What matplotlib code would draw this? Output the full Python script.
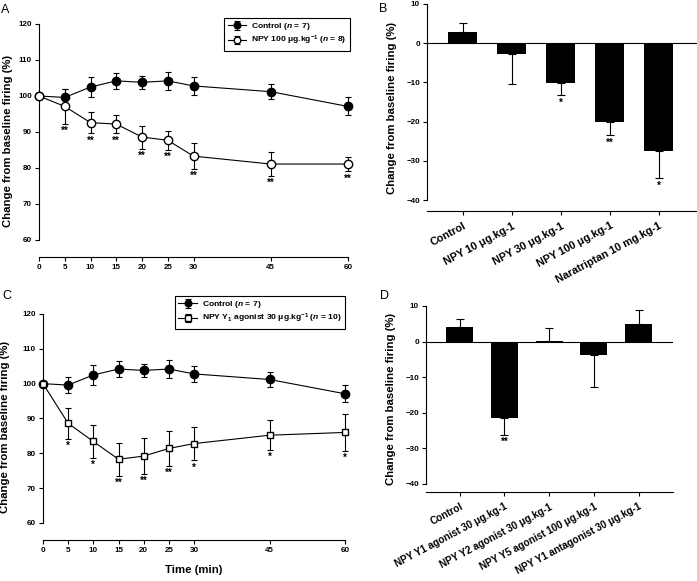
import numpy as np
import matplotlib
matplotlib.use("Agg")
import matplotlib.pyplot as plt

plt.rcParams['font.family'] = ['Liberation Sans', 'DejaVu Sans']
plt.rcParams['font.weight'] = 'bold'
plt.rcParams['mathtext.fontset'] = 'custom'
plt.rcParams['mathtext.rm'] = 'Liberation Sans:bold'
plt.rcParams['mathtext.it'] = 'Liberation Sans:italic:bold'
plt.rcParams['mathtext.bf'] = 'Liberation Sans:bold'

# time course data (panels A and C)
time_min = [0, 5, 10, 15, 20, 25, 30, 45, 60]
ctrl_mean = [100, 99.6, 102.5, 104.2, 103.8, 104.2, 102.8, 101.2, 97.1]
ctrl_err = [0, 2.3, 2.9, 2.3, 1.8, 2.6, 2.4, 2.1, 2.5]
npy100_mean = [100, 97.1, 92.6, 92.2, 88.6, 87.7, 83.3, 81.1, 81.1]
npy100_err = [0, 4.8, 3.0, 2.6, 3.2, 2.7, 3.6, 3.3, 2.0]
npy100_sig = ['', '**', '**', '**', '**', '**', '**', '**', '**']
y1ag_mean = [100, 88.6, 83.4, 78.3, 79.2, 81.4, 82.8, 85.2, 86.0]
y1ag_err = [0, 4.5, 4.6, 4.8, 5.1, 4.9, 4.8, 4.3, 5.3]
y1ag_sig = ['', '*', '*', '**', '**', '**', '*', '*', '*']

# panel B
b_labels = ['Control', 'NPY 10 μg.kg-1', 'NPY 30 μg.kg-1', 'NPY 100 μg.kg-1',
            'Naratriptan 10 mg.kg-1']
b_vals = [2.8, -2.8, -10.1, -20.2, -27.5]
b_err = [2.4, 7.7, 3.2, 3.3, 6.9]
b_sig = ['', '', '*', '**', '*']

# panel D
d_labels = ['Control', 'NPY Y1 agonist 30 μg.kg-1', 'NPY Y2 agonist 30 μg.kg-1',
            'NPY Y5 agonist 100 μg.kg-1', 'NPY Y1 antagonist 30 μg.kg-1']
d_vals = [4.1, -21.5, 0.2, -3.9, 4.9]
d_err = [2.3, 4.6, 3.7, 8.9, 4.1]
d_sig = ['', '**', '', '', '']

W, H = 697, 581
fig = plt.figure(figsize=(W / 100, H / 100), dpi=100)


def add_ax(x0, x1, y0, y1):
    # pixel box -> figure coords
    return fig.add_axes([x0 / W, 1 - y1 / H, (x1 - x0) / W, (y1 - y0) / H])


def style(ax, ybounds):
    ax.spines['top'].set_visible(False)
    ax.spines['right'].set_visible(False)
    ax.spines['left'].set_bounds(*ybounds)
    for s in ax.spines.values():
        s.set_linewidth(0.8)
    ax.tick_params(direction='out', length=3, width=0.8, labelsize=5.8, pad=2)
    for t in ax.get_xticklabels() + ax.get_yticklabels():
        t.set_fontweight('bold')


def line_panel(ax, mean2, err2, sig2, marker2, ms2, lab2):
    ax.errorbar(time_min, ctrl_mean, yerr=ctrl_err, color='black', marker='o', ms=6,
                mfc='black', lw=0.8, capsize=2.5, elinewidth=0.8, capthick=0.8,
                label='Control ($\\it{n}$ = 7)', clip_on=False, zorder=3)
    ax.errorbar(time_min, mean2, yerr=err2, color='black', marker=marker2, ms=ms2,
                mfc='white', mec='black', lw=0.8, capsize=2.5, elinewidth=0.8,
                capthick=0.8, label=lab2, clip_on=False, zorder=4)
    for t, m, e, s in zip(time_min, mean2, err2, sig2):
        if s:
            ax.text(t, m - e - 0.6, s, ha='center', va='top', fontsize=7,
                    fontweight='bold')
    ax.set_xlim(0, 60)
    ax.set_xticks(time_min)
    ax.set_yticks(range(60, 121, 10))
    ax.set_ylabel('Change from baseline firing (%)', fontsize=8.2, fontweight='bold')
    style(ax, (60, 120))


def bar_panel(ax, labels, vals, errs, sig, rot_fs):
    x = np.arange(len(vals))
    lo = [e if v < 0 else 0 for v, e in zip(vals, errs)]
    hi = [e if v >= 0 else 0 for v, e in zip(vals, errs)]
    ax.bar(x, vals, width=0.6, color='black', zorder=2)
    ax.errorbar(x, vals, yerr=[lo, hi], fmt='none', ecolor='black', elinewidth=0.8,
                capsize=3, capthick=0.8, zorder=1)
    ax.axhline(0, color='black', lw=0.8, zorder=3)
    for xi, v, e, s in zip(x, vals, errs, sig):
        if s:
            ax.text(xi, v - e - 0.6, s, ha='center', va='top', fontsize=7,
                    fontweight='bold')
    ax.set_xticks(x)
    ax.set_yticks(range(-40, 11, 10))
    ax.set_ylabel('Change from baseline firing (%)', fontsize=8.2, fontweight='bold')
    style(ax, (-40, 10))
    ax.set_xticklabels(labels, rotation=28, ha='right', rotation_mode='anchor',
                       fontsize=rot_fs, fontweight='bold')
    ax.tick_params(axis='x', pad=4)


def add_legend(ax, right_px, top_px):
    leg = ax.legend(loc='upper right', bbox_to_anchor=(right_px / W, 1 - top_px / H),
                    bbox_transform=fig.transFigure, borderaxespad=0, fontsize=6.1,
                    fancybox=False, edgecolor='black', framealpha=1,
                    handlelength=2.2, borderpad=0.4, labelspacing=0.2,
                    markerscale=0.8, handletextpad=0.6)
    leg.get_frame().set_linewidth(0.8)


# A
axA = add_ax(39, 348, 24, 257)
axA.set_ylim(60 - 17 / 3.6, 120)
line_panel(axA, npy100_mean, npy100_err, npy100_sig, 'o', 6,
           'NPY 100 μg.kg$^{-1}$ ($\\it{n}$ = 8)')
axA.yaxis.set_label_coords((13 - 39) / 309, 0.5)
add_legend(axA, 350, 18)

# C
axC = add_ax(43, 345, 314, 540)
axC.set_ylim(60 - 17 / 3.483, 120)
line_panel(axC, y1ag_mean, y1ag_err, y1ag_sig, 's', 5,
           'NPY Y$_1$ agonist 30 μg.kg$^{-1}$ ($\\it{n}$ = 10)')
axC.yaxis.set_label_coords((10 - 43) / 302, 0.5)
axC.set_xlabel('Time (min)', fontsize=8.2, fontweight='bold', labelpad=8)
add_legend(axC, 345, 296)

# B
axB = add_ax(427, 697, 4, 211)
axB.set_ylim(-40 - 11 / 3.92, 10)
axB.set_xlim(-0.73, 4.78)
bar_panel(axB, b_labels, b_vals, b_err, b_sig, 7.8)
axB.yaxis.set_label_coords((397 - 427) / 270, 0.5)

# D
axD = add_ax(426, 673, 306, 492)
axD.set_ylim(-40 - 8 / 3.56, 10)
axD.set_xlim(-0.754, 4.77)
bar_panel(axD, d_labels, d_vals, d_err, d_sig, 7.2)
axD.yaxis.set_label_coords((396 - 426) / 247, 0.5)

# panel letters
for lab, px, py in [('A', 1, 4), ('B', 379, 3), ('C', 2, 290), ('D', 380, 290)]:
    fig.text(px / W, 1 - py / H, lab, fontsize=9, fontweight='normal',
             ha='left', va='top')

fig.savefig('out.png', dpi=100)
